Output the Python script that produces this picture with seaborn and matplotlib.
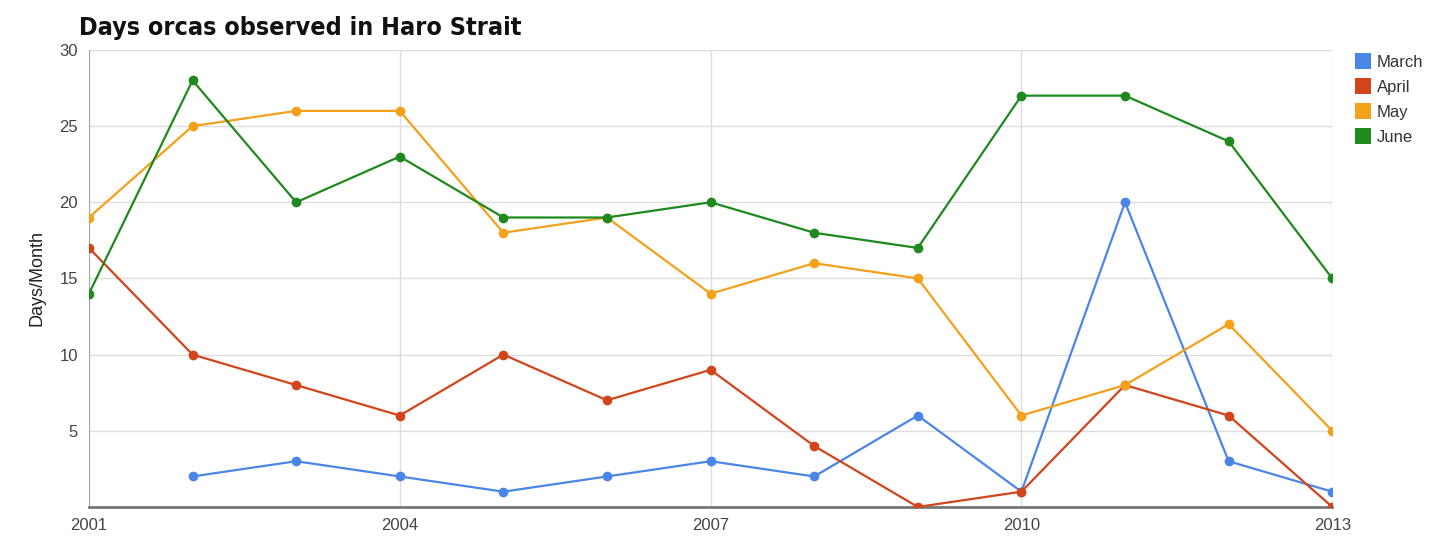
import numpy as np
import pandas as pd
import matplotlib
matplotlib.use("Agg")
import matplotlib.pyplot as plt
from matplotlib.lines import Line2D
import seaborn as sns

years = list(range(2001, 2014))
march = [np.nan, 2, 3, 2, 1, 2, 3, 2, 6, 1, 20, 3, 1]
april = [17, 10, 8, 6, 10, 7, 9, 4, 0, 1, 8, 6, 0]
may = [19, 25, 26, 26, 18, 19, 14, 16, 15, 6, 8, 12, 5]
june = [14, 28, 20, 23, 19, 19, 20, 18, 17, 27, 27, 24, 15]
months = ["March", "April", "May", "June"]
colors = ["#4a86e8", "#d2441a", "#f5a01a", "#1e8a1e"]
xticks = [2001, 2004, 2007, 2010, 2013]
yticks = [5, 10, 15, 20, 25, 30]

df = pd.DataFrame({"Year": years, "March": march, "April": april,
                   "May": may, "June": june})
long = df.melt(id_vars="Year", var_name="Month", value_name="Days").dropna()

sns.set_style("white")
plt.rcParams['font.family'] = ['Liberation Sans', 'DejaVu Sans']

fig = plt.figure(figsize=(14.44, 5.37), dpi=100)
ax = fig.add_axes([0.0616, 0.056, 0.861, 0.851])

palette = dict(zip(months, colors))
sns.lineplot(data=long, x="Year", y="Days", hue="Month", hue_order=months,
             palette=palette, marker="o", markersize=7, markeredgewidth=0,
             linewidth=1.6, ax=ax, legend=False, zorder=3)

ax.set_xlim(2001, 2013)
ax.set_ylim(0, 30)
ax.set_xticks(xticks)
ax.set_yticks(yticks)
ax.set_xticklabels([str(x) for x in xticks], fontsize=12, color="#444444")
ax.set_yticklabels([str(y) for y in yticks], fontsize=12, color="#444444")
ax.tick_params(length=0, pad=8)
ax.grid(True, color="#dddddd", linewidth=1)
ax.set_xlabel("")
ax.set_ylabel("Days/Month", fontsize=13, color="#222222", labelpad=10)
for s in ["top", "right"]:
    ax.spines[s].set_visible(False)
ax.spines["left"].set_color("#aaaaaa")
ax.spines["bottom"].set_color("#777777")
ax.spines["bottom"].set_linewidth(2)

# condensed bold title
fig.text(0.055, 0.948, "Days orcas observed in Haro Strait", fontsize=18,
         fontweight="bold", fontstretch="condensed",
         family=["DejaVu Sans"], color="#111111", va="center")

handles = [Line2D([], [], marker="s", linestyle="none", markersize=12,
                  markerfacecolor=c, markeredgewidth=0) for c in colors]
fig.legend(handles, months, loc="upper left", bbox_to_anchor=(0.928, 0.925),
           frameon=False, fontsize=12, handletextpad=0.3, labelspacing=0.6,
           handlelength=1.0, labelcolor="#333333")

fig.savefig("out.png", dpi=100)
